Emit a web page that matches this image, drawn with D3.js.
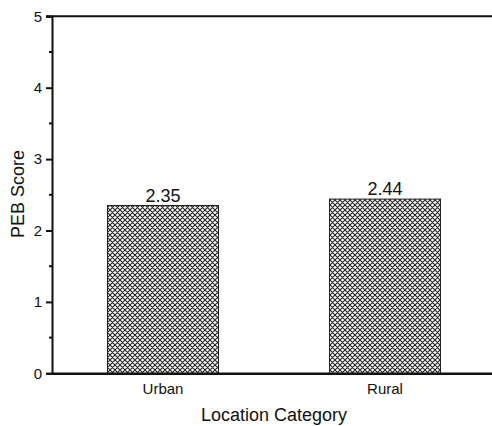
<!DOCTYPE html>
<html><head><meta charset="utf-8">
<script src="https://cdn.jsdelivr.net/npm/d3@7"></script>
<style>body{margin:0;background:#fff}svg{display:block}text{font-family:"Liberation Sans",Arial,sans-serif;fill:#111}</style>
</head><body>
<script>
const categories = ["Urban", "Rural"];
const values = [2.35, 2.44];
const yTicks = [0, 1, 2, 3, 4, 5];
const yMinorTicks = [0.5, 1.5, 2.5, 3.5, 4.5];
const xTitle = "Location Category";
const yTitle = "PEB Score";

const W = 492, H = 426;
const svg = d3.select("body").append("svg").attr("width", W).attr("height", H);
const defs = svg.append("defs");
const pat = defs.append("pattern").attr("id","hatch").attr("patternUnits","userSpaceOnUse")
  .attr("width",5).attr("height",5);
pat.append("rect").attr("width",5).attr("height",5).attr("fill","#fff");
pat.append("path").attr("d","M-1,1 L1,-1 M0,5 L5,0 M4,6 L6,4 M-1,4 L1,6 M0,0 L5,5 M4,-1 L6,1")
  .attr("stroke","#222").attr("stroke-width",1.1);

const x = d3.scaleBand().domain(categories).range([52, 496]).paddingInner(0.5).paddingOuter(0.25);
const y = d3.scaleLinear().domain([0, 5]).range([373.3, 16.3]);

// bars
svg.selectAll("rect.bar").data(values).join("rect").attr("class","bar")
  .attr("x",(d,i)=>x(categories[i])).attr("width",x.bandwidth())
  .attr("y",d=>y(d)).attr("height",d=>y(0)-y(d))
  .attr("fill","url(#hatch)").attr("stroke","#222").attr("stroke-width",1);

// value labels
svg.selectAll("text.val").data(values).join("text").attr("class","val")
  .attr("x",(d,i)=>x(categories[i])+x.bandwidth()/2).attr("y",d=>y(d)-4)
  .attr("text-anchor","middle").attr("font-size",18).text(d=>d.toFixed(2));

// y axis
const yAxis = d3.axisLeft(y).tickValues(yTicks).tickSize(6).tickPadding(4).tickFormat(d3.format("d"));
const gy = svg.append("g").attr("transform","translate(52,0)").call(yAxis);
gy.select(".domain").attr("stroke","#111").attr("stroke-width",2);
gy.selectAll(".tick line").attr("stroke","#111").attr("stroke-width",2);
gy.selectAll(".tick text").attr("font-size",15).attr("font-family","'Liberation Sans',Arial,sans-serif").attr("fill","#111");
gy.selectAll("line.minor").data(yMinorTicks).join("line").attr("class","minor")
  .attr("x1",-3).attr("x2",0).attr("y1",d=>y(d)).attr("y2",d=>y(d)).attr("stroke","#111").attr("stroke-width",2);

// x axis
const xAxis = d3.axisBottom(x).tickSize(0).tickPadding(10);
const gx = svg.append("g").attr("transform",`translate(0,${y(0)})`).call(xAxis);
gx.select(".domain").attr("stroke","#111").attr("stroke-width",2.5);
gx.selectAll(".tick text").attr("font-size",15).attr("font-family","'Liberation Sans',Arial,sans-serif").attr("fill","#111");

// top frame line
svg.append("line").attr("x1",46).attr("x2",496).attr("y1",y(5)).attr("y2",y(5)).attr("stroke","#111").attr("stroke-width",2);

// titles
svg.append("text").attr("x",274).attr("y",421).attr("text-anchor","middle").attr("font-size",18).text(xTitle);
svg.append("text").attr("transform",`translate(24,194) rotate(-90)`).attr("text-anchor","middle").attr("font-size",18).text(yTitle);
</script>
</body></html>
